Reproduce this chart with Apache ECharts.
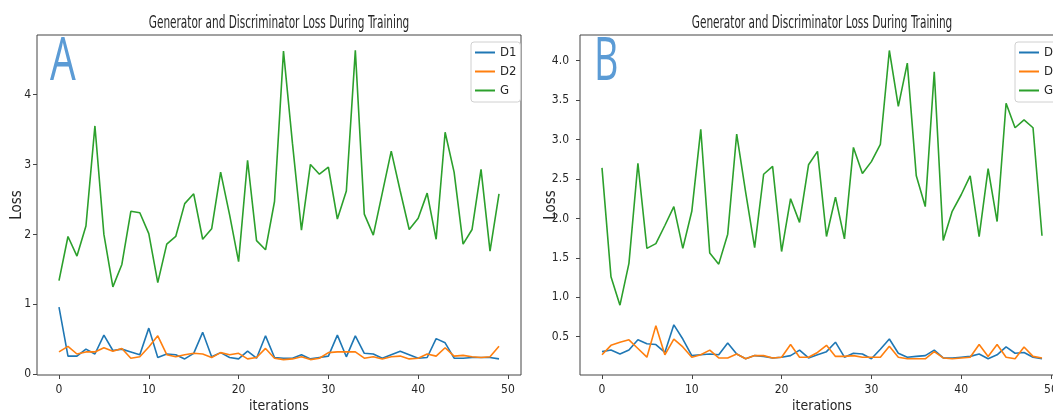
<!DOCTYPE html>
<html>
<head>
<meta charset="utf-8">
<title>Generator and Discriminator Loss During Training</title>
<script src="https://cdn.jsdelivr.net/npm/echarts@6/dist/echarts.min.js"></script>
<style>
  html, body { margin: 0; padding: 0; background: #fff; }
  #chart { width: 1053px; height: 412px; }
</style>
</head>
<body>
<div id="chart"></div>
<script>
// iterations 0..49
const iterations = [0, 1, 2, 3, 4, 5, 6, 7, 8, 9, 10, 11, 12, 13, 14, 15, 16, 17, 18, 19,
  20, 21, 22, 23, 24, 25, 26, 27, 28, 29, 30, 31, 32, 33, 34, 35, 36, 37, 38, 39,
  40, 41, 42, 43, 44, 45, 46, 47, 48, 49];

// panel A
const d1A = [0.96, 0.26, 0.26, 0.36, 0.29, 0.56, 0.34, 0.36, 0.32, 0.28,
  0.66, 0.24, 0.29, 0.28, 0.22, 0.30, 0.60, 0.25, 0.31, 0.24,
  0.22, 0.33, 0.23, 0.55, 0.24, 0.23, 0.23, 0.28, 0.22, 0.24,
  0.26, 0.56, 0.25, 0.55, 0.30, 0.29, 0.23, 0.28, 0.33, 0.28,
  0.23, 0.24, 0.51, 0.45, 0.23, 0.23, 0.24, 0.24, 0.24, 0.22];
const d2A = [0.32, 0.40, 0.29, 0.32, 0.32, 0.38, 0.33, 0.37, 0.23, 0.25,
  0.39, 0.55, 0.28, 0.25, 0.28, 0.30, 0.29, 0.24, 0.31, 0.28,
  0.30, 0.22, 0.24, 0.37, 0.23, 0.21, 0.22, 0.25, 0.21, 0.23,
  0.31, 0.32, 0.32, 0.32, 0.23, 0.25, 0.22, 0.25, 0.26, 0.22,
  0.23, 0.29, 0.26, 0.38, 0.26, 0.27, 0.25, 0.24, 0.25, 0.40];
const gA = [1.34, 1.97, 1.69, 2.12, 3.55, 2.00, 1.25, 1.57, 2.33, 2.31,
  2.01, 1.31, 1.86, 1.97, 2.44, 2.58, 1.93, 2.08, 2.89, 2.28,
  1.61, 3.06, 1.91, 1.78, 2.47, 4.62, 3.30, 2.06, 3.00, 2.86,
  2.96, 2.22, 2.62, 4.63, 2.29, 1.99, 2.59, 3.19, 2.62, 2.07,
  2.23, 2.59, 1.93, 3.46, 2.89, 1.86, 2.07, 2.93, 1.76, 2.58];

// panel B
const d1B = [0.31, 0.33, 0.28, 0.33, 0.46, 0.41, 0.40, 0.30, 0.65, 0.47,
  0.26, 0.27, 0.28, 0.27, 0.42, 0.28, 0.22, 0.26, 0.25, 0.23,
  0.24, 0.26, 0.33, 0.23, 0.27, 0.31, 0.43, 0.24, 0.29, 0.28,
  0.22, 0.34, 0.47, 0.29, 0.24, 0.25, 0.26, 0.33, 0.23, 0.23,
  0.24, 0.25, 0.28, 0.22, 0.27, 0.37, 0.29, 0.30, 0.24, 0.22];
const d2B = [0.27, 0.39, 0.43, 0.46, 0.35, 0.24, 0.64, 0.27, 0.47, 0.37,
  0.24, 0.27, 0.33, 0.23, 0.23, 0.28, 0.22, 0.26, 0.26, 0.23,
  0.24, 0.40, 0.24, 0.24, 0.30, 0.39, 0.25, 0.25, 0.26, 0.24,
  0.24, 0.24, 0.38, 0.24, 0.22, 0.22, 0.22, 0.31, 0.23, 0.22,
  0.23, 0.24, 0.40, 0.25, 0.40, 0.24, 0.22, 0.37, 0.25, 0.23];
const gB = [2.64, 1.26, 0.90, 1.43, 2.70, 1.62, 1.68, 1.91, 2.15, 1.62,
  2.09, 3.13, 1.56, 1.42, 1.80, 3.07, 2.33, 1.63, 2.56, 2.66,
  1.58, 2.25, 1.95, 2.68, 2.85, 1.77, 2.27, 1.74, 2.90, 2.57,
  2.72, 2.94, 4.13, 3.42, 3.97, 2.54, 2.15, 3.86, 1.72, 2.09,
  2.30, 2.54, 1.77, 2.63, 1.96, 3.46, 3.15, 3.25, 3.15, 1.78];

const seriesNames = ['D1', 'D2', 'G'];
const xTicks = [0, 10, 20, 30, 40, 50];
const yTicksA = [0, 1, 2, 3, 4];
const yTicksB = [0.5, 1.0, 1.5, 2.0, 2.5, 3.0, 3.5, 4.0];
const titleText = 'Generator and Discriminator Loss During Training';
const panelLetters = ['A', 'B'];

const colors = ['#1f77b4', '#ff7f0e', '#2ca02c'];
const FONT = "'DejaVu Sans Condensed', 'Liberation Sans Narrow', 'DejaVu Sans', sans-serif";
const INK = '#262626';
const SPINE = '#444';

function pairs(ys) {
  return ys.map((v, i) => [iterations[i], v]);
}

function xAxisFor(gridIndex) {
  return {
    type: 'value', gridIndex: gridIndex,
    min: -2.45, max: 51.45,
    name: 'iterations', nameLocation: 'middle', nameGap: 24, nameMoveOverlap: false,
    nameTextStyle: { fontFamily: FONT, fontSize: 14, color: INK },
    axisLine: { show: false, onZero: false },
    axisTick: { show: true, length: 4, lineStyle: { color: SPINE }, customValues: xTicks },
    axisLabel: { fontFamily: FONT, fontSize: 12, color: INK, margin: 9, customValues: xTicks },
    splitLine: { show: false }
  };
}

function yAxisFor(gridIndex, min, max, ticks, gap, margin, fmt) {
  return {
    type: 'value', gridIndex: gridIndex,
    min: min, max: max,
    name: 'Loss', nameLocation: 'middle', nameGap: gap, nameRotate: 90, nameMoveOverlap: false,
    nameTextStyle: { fontFamily: FONT, fontSize: 15, color: INK },
    axisLine: { show: false, onZero: false },
    axisTick: { show: true, length: 4, lineStyle: { color: SPINE }, customValues: ticks },
    axisLabel: { fontFamily: FONT, fontSize: 12, color: INK, margin: margin, customValues: ticks, formatter: fmt },
    splitLine: { show: false }
  };
}

function legendFor(left) {
  return {
    orient: 'vertical', left: left, top: 42,
    padding: [3, 4, 4, 4], itemGap: 4,
    itemWidth: 20, itemHeight: 2, icon: 'rect',
    borderColor: '#d0d0d0', borderWidth: 1, borderRadius: 3,
    backgroundColor: 'rgba(255,255,255,0.85)',
    textStyle: { fontFamily: FONT, fontSize: 13, color: INK, lineHeight: 15 },
    data: seriesNames
  };
}

function lineSeries(name, ys, idx, color) {
  return {
    name: name, type: 'line', xAxisIndex: idx, yAxisIndex: idx,
    data: pairs(ys), showSymbol: false, symbol: 'none',
    lineStyle: { width: 1.6, color: color }, itemStyle: { color: color }
  };
}

const chart = echarts.init(document.getElementById('chart'), null, { renderer: 'canvas' });
chart.setOption({
  animation: false,
  backgroundColor: '#fff',
  grid: [
    { left: 37, right: 532, top: 35, bottom: 37, outerBoundsMode: 'none',
      show: true, borderColor: SPINE, borderWidth: 1 },
    { left: 580, right: -11, top: 35, bottom: 37, outerBoundsMode: 'none',
      show: true, borderColor: SPINE, borderWidth: 1 }
  ],
  xAxis: [xAxisFor(0), xAxisFor(1)],
  yAxis: [
    yAxisFor(0, -0.01, 4.85, yTicksA, 12, 6, v => String(v)),
    yAxisFor(1, 0.014, 4.326, yTicksB, 21, 11, v => v.toFixed(1))
  ],
  legend: [legendFor(471), legendFor(1015)],
  graphic: [
    { type: 'text', x: 279, y: 23, scaleX: 0.65,
      style: { text: titleText, font: '18px ' + FONT, fill: INK, align: 'center', verticalAlign: 'middle' } },
    { type: 'text', x: 822, y: 23, scaleX: 0.65,
      style: { text: titleText, font: '18px ' + FONT, fill: INK, align: 'center', verticalAlign: 'middle' } },
    { type: 'text', x: 50, y: 63, scaleX: 0.68,
      style: { text: panelLetters[0], font: '60px "Open Sans"', fill: '#5b9bd5', align: 'left', verticalAlign: 'middle' } },
    { type: 'text', x: 594, y: 63, scaleX: 0.63,
      style: { text: panelLetters[1], font: '60px "Open Sans"', fill: '#5b9bd5', align: 'left', verticalAlign: 'middle' } }
  ],
  series: [
    lineSeries('D1', d1A, 0, colors[0]),
    lineSeries('D2', d2A, 0, colors[1]),
    lineSeries('G', gA, 0, colors[2]),
    lineSeries('D1', d1B, 1, colors[0]),
    lineSeries('D2', d2B, 1, colors[1]),
    lineSeries('G', gB, 1, colors[2])
  ]
});
</script>
</body>
</html>
